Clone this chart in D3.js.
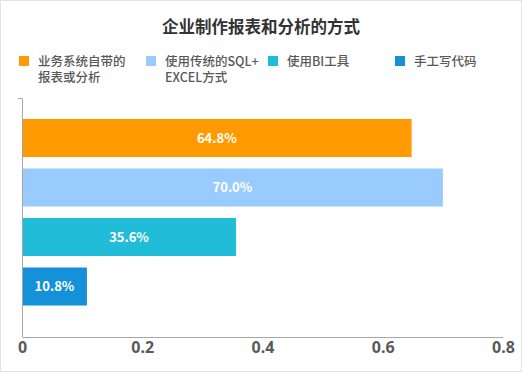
<!DOCTYPE html>
<html>
<head>
<meta charset="utf-8">
<script src="https://cdn.jsdelivr.net/npm/d3@7"></script>
<style>
  body { margin: 0; background: #fff; }
  svg text { font-family: "Noto Sans CJK SC", "Noto Sans", sans-serif; }
</style>
</head>
<body>
<div id="chart"></div>
<script>
// data
var categories = ["业务系统自带的报表或分析", "使用传统的SQL+EXCEL方式", "使用BI工具", "手工写代码"];
var values = [0.648, 0.700, 0.356, 0.108];
var colors = ["#ff9a00", "#9acbfe", "#20bcd8", "#1591d9"];
var legendLines = [["业务系统自带的", "报表或分析"], ["使用传统的SQL+", "EXCEL方式"], ["使用BI工具"], ["手工写代码"]];
var xTicks = [0, 0.2, 0.4, 0.6, 0.8];

var width = 522, height = 372;
var svg = d3.select("#chart")
    .append("svg")
    .attr("width", width)
    .attr("height", height);

// outer border
svg.append("rect")
    .attr("x", 0.5).attr("y", 0.5)
    .attr("width", width - 1).attr("height", height - 1)
    .attr("fill", "#fff")
    .attr("stroke", "#e3e3e3");

// title
svg.append("text")
    .attr("x", 261).attr("y", 33)
    .attr("text-anchor", "middle")
    .attr("font-size", 16.5)
    .attr("font-weight", "bold")
    .attr("fill", "#333")
    .text("企业制作报表和分析的方式");

// legend - one text per line
var legendX = [19, 146, 268, 395];
var legend = svg.selectAll(".legend")
    .data(categories)
    .enter()
    .append("g")
    .attr("transform", function(d, i) { return "translate(" + legendX[i] + ",56)"; });
legend.append("rect")
    .attr("width", 10).attr("height", 10)
    .attr("fill", function(d, i) { return colors[i]; });
legend.selectAll("text")
    .data(function(d, i) { return legendLines[i]; })
    .enter()
    .append("text")
    .attr("x", 19)
    .attr("y", function(d, j) { return 10 + j * 16; })
    .attr("font-size", 12.5)
    .attr("font-weight", 500)
    .attr("fill", "#595959")
    .text(function(d) { return d; });

// scales
var x = d3.scaleLinear()
    .domain([0, 0.8])
    .range([22, 503]);

var y = d3.scaleBand()
    .domain(categories)
    .range([98, 337])
    .paddingInner(0.232)
    .paddingOuter(0.53)
    .align(0.4);

// bars
svg.selectAll(".bar")
    .data(values)
    .enter()
    .append("rect")
    .attr("x", x(0))
    .attr("y", function(d, i) { return y(categories[i]); })
    .attr("width", function(d) { return x(d) - x(0); })
    .attr("height", y.bandwidth())
    .attr("fill", function(d, i) { return colors[i]; });

// value labels
svg.selectAll(".lbl")
    .data(values)
    .enter()
    .append("text")
    .attr("x", function(d) { return (x(0) + x(d)) / 2; })
    .attr("y", function(d, i) { return y(categories[i]) + y.bandwidth() / 2; })
    .attr("dy", "0.35em")
    .attr("text-anchor", "middle")
    .attr("font-size", 13)
    .attr("font-weight", "bold")
    .attr("fill", "#fff")
    .text(function(d) { return (d * 100).toFixed(1) + "%"; });

// x axis
var xAxis = svg.append("g")
    .attr("transform", "translate(0,337)")
    .call(d3.axisBottom(x).tickValues(xTicks).tickSize(0).tickPadding(5)
        .tickFormat(function(d) { return d === 0 ? "0" : d3.format(".1f")(d); }));
xAxis.select(".domain").attr("stroke", "#a6a6a6");
xAxis.selectAll("text")
    .attr("font-size", 16)
    .attr("font-weight", "bold")
    .attr("fill", "#595959")
    .style("font-family", "'Noto Sans', sans-serif");

// y axis
var yAxis = svg.append("g")
    .attr("transform", "translate(22,0)")
    .call(d3.axisLeft(y).tickSize(0).tickFormat(""));
yAxis.select(".domain").attr("stroke", "#a6a6a6").attr("d", "M-4,98.5H0.5V337");
</script>
</body>
</html>
